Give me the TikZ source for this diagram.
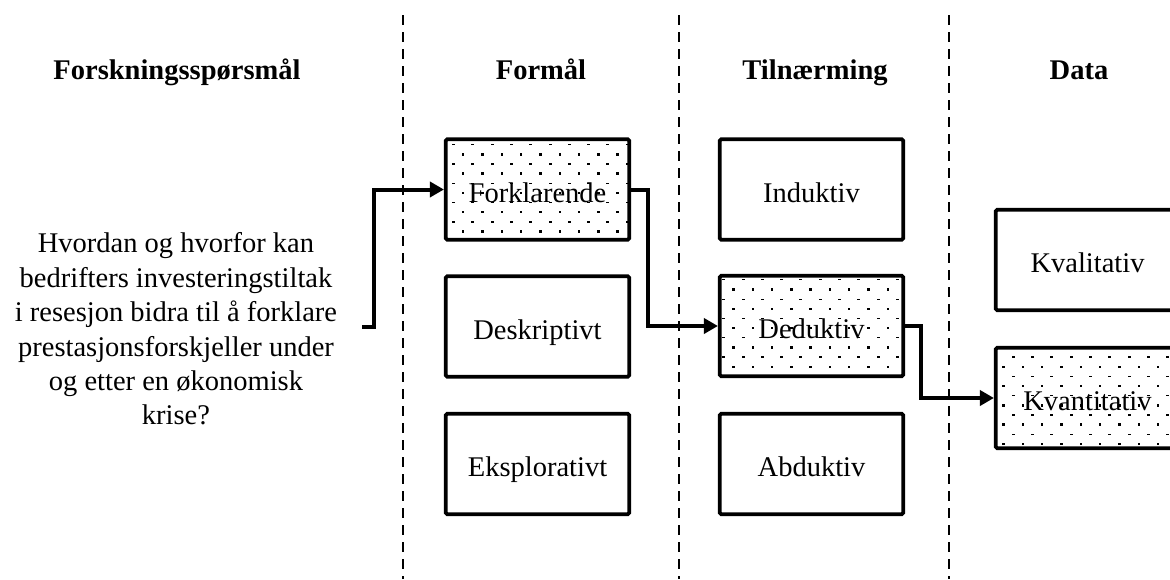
\documentclass[tikz,border=0pt]{standalone}
\usepackage{fontspec}
\setmainfont{Liberation Serif}
\usetikzlibrary{arrows.meta,patterns.meta}

\tikzdeclarepattern{
  name=prikker,
  type=uncolored,
  bottom left={(-2pt,-2pt)},
  top right={(17.3pt,17.3pt)},
  tile size={(19.3pt,19.3pt)},
  code={
    \fill (-1.2pt,-1.2pt) rectangle (1.2pt,1.2pt);
    \fill (8.15pt,9.05pt) rectangle (11.15pt,10.25pt);
  }
}

\begin{document}
\begin{tikzpicture}[x=1pt, y=-1pt,
    font=\fontsize{28.5}{34.4}\selectfont,
    boks/.style={draw, line width=3.6pt, rounded corners=1.5pt, minimum width=183.5pt,
      minimum height=100.5pt, inner sep=0pt, text height=25pt, text depth=0pt},
    valgt/.style={boks, pattern=prikker, pattern color=black},
    tittel/.style={font=\fontsize{28.5}{34.4}\selectfont\bfseries, anchor=base},
    skille/.style={dash pattern=on 10pt off 7pt, line width=2.2pt},
    pil/.style={line width=4pt, -{Triangle[length=14pt,width=15pt]}}]
  \useasboundingbox (0,0) rectangle (1170,579);

  % Separators
  \draw[skille] (403,15) -- (403,579);
  \draw[skille] (679,15) -- (679,579);
  \draw[skille] (949,15) -- (949,579);

  % Headings
  \node[tittel] (hspm) at (177,79) {Forskningsspørsmål};
  \node[tittel] (hformaal) at (541,79) {Formål};
  \node[tittel] (htilnaerm) at (815,79) {Tilnærming};
  \node[tittel] (hdata) at (1079,79) {Data};

  % Question
  \node[align=center, inner sep=0pt] (spm) at (176,329)
    {Hvordan og hvorfor kan\\bedrifters investeringstiltak\\i resesjon bidra til å forklare\\prestasjonsforskjeller under\\og etter en økonomisk\\krise?};
  \coordinate (start) at (362,327);

  % Boxes
  \node[valgt] (forkl) at (537.5,189.5) {Forklarende};
  \node[boks] (deskr) at (537.5,326.5) {Deskriptivt};
  \node[boks] (ekspl) at (537.5,464) {Eksplorativt};

  \node[boks] (indukt) at (811.5,189.5) {Induktiv};
  \node[valgt] (dedukt) at (811.5,326) {Deduktiv};
  \node[boks] (abdukt) at (811.5,464) {Abduktiv};

  \node[boks] (kval) at (1087.5,260) {Kvalitativ};
  \node[valgt] (kvant) at (1087.5,398) {Kvantitativ};

  % Arrows
  \draw[pil] (start) -- ++(12,0) |- (forkl.west);
  \draw[pil] (forkl.east) -- ++(17,0) |- (dedukt.west);
  \draw[pil] (dedukt.east) -- ++(16,0) |- (kvant.west);
\end{tikzpicture}
\end{document}
